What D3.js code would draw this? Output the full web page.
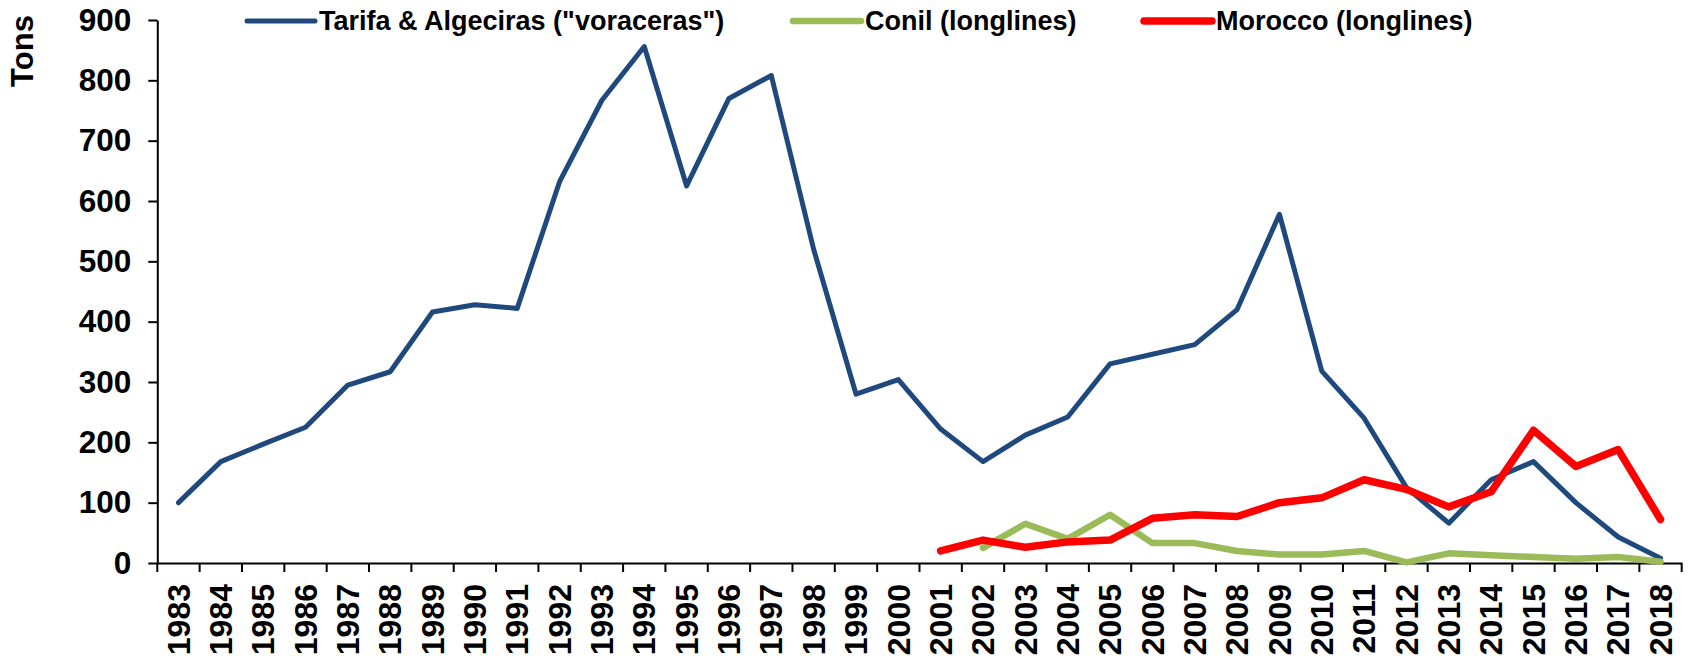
<!DOCTYPE html>
<html>
<head>
<meta charset="utf-8">
<script src="https://cdn.jsdelivr.net/npm/d3@7"></script>
<style>
  html, body { margin: 0; padding: 0; background: #fff; }
  svg { display: block; }
  text { font-family: "Liberation Sans", Arial, sans-serif; font-weight: bold; fill: #000; }
</style>
</head>
<body>
<svg id="chart" width="1692" height="658"></svg>
<script>
const years = d3.range(1983, 2019).map(String);
const tarifa = [100, 168, 197, 225, 295, 317, 416, 428, 422, 632, 767, 856, 625, 770, 808, 520,
                280, 304, 222, 168, 212, 242, 330, 346, 362, 420, 578, 318, 240, 125, 66, 138,
                168, 100, 43, 8];
const conilYears = d3.range(2002, 2019).map(String);
const conil = [25, 65, 40, 80, 33, 33, 20, 14, 14, 20, 1, 16, 13, 10, 7, 10, 2];
const moroccoYears = d3.range(2001, 2019).map(String);
const morocco = [20, 38, 26, 35, 38, 74, 80, 77, 100, 108, 138, 122, 93, 118, 220, 160, 188, 72];
const yTicks = [0, 100, 200, 300, 400, 500, 600, 700, 800, 900];
const seriesNames = ['Tarifa & Algeciras ("voraceras")', 'Conil (longlines)', 'Morocco (longlines)'];
const seriesColors = ['#1F497D', '#9BBB59', '#FF0000'];
const seriesWidths = [5, 6.5, 7.5];

const svg = d3.select('#chart');
const mLeft = 157.3, mRight = 1681.7, mTop = 20, mBottom = 563;

const x = d3.scaleBand().domain(years).range([mLeft, mRight]);
const y = d3.scaleLinear().domain([0, 900]).range([mBottom, mTop]);

// Y axis
const yAxis = svg.append('g').attr('transform', `translate(${mLeft},0)`)
  .call(d3.axisLeft(y).tickValues(yTicks).tickSize(9).tickPadding(17).tickSizeOuter(0));
yAxis.select('.domain').attr('stroke', '#000').attr('stroke-width', 2);
yAxis.selectAll('.tick line').attr('stroke', '#000').attr('stroke-width', 2);
yAxis.selectAll('.tick text').style('font-size', '31.5px').attr('font-family', null);

// X axis
const xAxis = svg.append('g').attr('transform', `translate(0,${mBottom})`)
  .call(d3.axisBottom(x).tickSize(0).tickSizeOuter(0));
xAxis.select('.domain').attr('stroke', '#000').attr('stroke-width', 2);
xAxis.selectAll('.tick text')
  .style('font-size', '32px').attr('font-family', null)
  .attr('text-anchor', 'end')
  .attr('transform', 'rotate(-90)')
  .attr('x', -21).attr('y', 0).attr('dy', '0.35em');
// boundary ticks between categories
const bounds = years.map(d => x(d)).concat([x.range()[1]]);
svg.append('g').selectAll('line').data(bounds).join('line')
  .attr('x1', d => d).attr('x2', d => d)
  .attr('y1', mBottom).attr('y2', mBottom + 9)
  .attr('stroke', '#000').attr('stroke-width', 2);

// Y title
svg.append('text')
  .attr('transform', 'translate(33,51) rotate(-90)')
  .attr('text-anchor', 'middle')
  .style('font-size', '31px')
  .text('Tons');

// Lines
const line = d3.line().x(d => x(d[0]) + x.bandwidth() / 2).y(d => y(d[1]));
const data = [d3.zip(years, tarifa), d3.zip(conilYears, conil), d3.zip(moroccoYears, morocco)];
data.forEach((d, i) => {
  svg.append('path').datum(d)
    .attr('d', line)
    .attr('fill', 'none')
    .attr('stroke', seriesColors[i])
    .attr('stroke-width', seriesWidths[i])
    .attr('stroke-linejoin', 'round')
    .attr('stroke-linecap', 'round');
});

// Legend
const legendX = [247, 793, 1144];
const lg = svg.append('g');
seriesNames.forEach((name, i) => {
  lg.append('line')
    .attr('x1', legendX[i]).attr('x2', legendX[i] + 68)
    .attr('y1', 21).attr('y2', 21)
    .attr('stroke', seriesColors[i]).attr('stroke-width', seriesWidths[i])
    .attr('stroke-linecap', 'round');
  lg.append('text')
    .attr('x', legendX[i] + 72).attr('y', 21).attr('dy', '0.35em')
    .style('font-size', '27px')
    .text(name);
});
</script>
</body>
</html>
